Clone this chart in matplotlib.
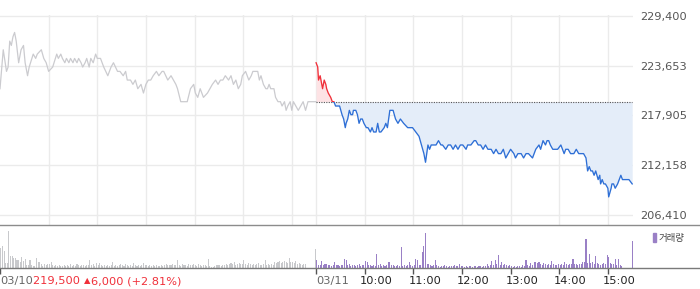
import matplotlib
matplotlib.use("Agg")
import matplotlib.pyplot as plt
import matplotlib.transforms as mtransforms
from matplotlib.patches import Rectangle
from matplotlib.lines import Line2D

# price ticks on the right
price_ticks = [206410, 212158, 217905, 223653, 229400]
price_tick_labels = ["206,410", "212,158", "217,905", "223,653", "229,400"]

# previous day (03/10) close, used as reference line for 03/11
prev_close = 219500
summary_close = "219,500 "
summary_change = "6,000 (+2.81%)"

# 03/10 intraday prices
day1_time = ["09:00", "09:04", "09:08", "09:10", "09:12", "09:14", "09:16", "09:18", "09:20", "09:23",
             "09:26", "09:29", "09:31", "09:34", "09:36", "09:41", "09:44", "09:46", "09:51", "09:54",
             "09:57", "10:00", "10:05", "10:10", "10:12", "10:15", "10:17", "10:20", "10:22", "10:25",
             "10:27", "10:30", "10:32", "10:35", "10:37", "10:40", "10:42", "10:45", "10:47", "10:50",
             "10:52", "10:55", "10:58", "11:00", "11:04", "11:08", "11:13", "11:17", "11:20", "11:25",
             "11:28", "11:32", "11:35", "11:37", "11:41", "11:44", "11:47", "11:50", "11:54", "11:57",
             "12:00", "12:03", "12:06", "12:09", "12:13", "12:16", "12:20", "12:22", "12:27", "12:31",
             "12:34", "12:37", "12:39", "12:43", "12:51", "12:55", "12:59", "13:01", "13:04", "13:07",
             "13:09", "13:11", "13:16", "13:19", "13:22", "13:26", "13:29", "13:32", "13:35", "13:38",
             "13:42", "13:45", "13:48", "13:51", "13:54", "13:57", "13:59", "14:03", "14:05", "14:07",
             "14:10", "14:12", "14:18", "14:20", "14:22", "14:25", "14:28", "14:30", "14:32", "14:34",
             "14:38", "14:40", "14:43", "14:46", "14:48", "14:51", "14:53", "14:55", "14:58", "15:00",
             "15:02", "15:05", "15:08", "15:11", "15:14", "15:17", "15:20", "15:30"]
day1_price = [221000, 225500, 223000, 223500, 226500, 226000, 227000, 227500, 226500, 224000,
              225500, 226000, 224000, 222500, 223500, 225000, 224500, 225000, 225500, 224500,
              224000, 223000, 223500, 225000, 224500, 225000, 224500, 224000, 224500, 224000,
              224500, 224000, 224500, 224000, 224500, 224000, 223500, 224000, 224500, 223500,
              224500, 224000, 225000, 224500, 224500, 223500, 222500, 223500, 224000, 223000,
              223000, 222500, 223000, 222000, 222000, 221500, 222000, 221000, 221500, 220500,
              221500, 222000, 222000, 222500, 223000, 222500, 223000, 223000, 222000, 222500,
              222000, 221500, 221000, 219500, 219500, 221000, 221500, 220500, 220000, 221000,
              220500, 220000, 220500, 221000, 221500, 222000, 221500, 222000, 222000, 222500,
              222000, 222500, 221500, 222000, 221000, 221500, 222500, 223000, 222500, 222000,
              222500, 223000, 223000, 222000, 222500, 221500, 221000, 221000, 221500, 221000,
              221000, 220000, 219500, 219500, 219000, 219500, 218500, 219000, 219500, 218500,
              219500, 219000, 218500, 219000, 219500, 218500, 219500, 219500]

# 03/11 intraday prices
day2_time = ["09:00", "09:02", "09:03", "09:05", "09:06", "09:08", "09:10", "09:12", "09:13", "09:15",
             "09:18", "09:20", "09:22", "09:24", "09:29", "09:32", "09:34", "09:36", "09:37", "09:39",
             "09:41", "09:43", "09:45", "09:46", "09:49", "09:51", "09:53", "09:55", "09:57", "09:59",
             "10:02", "10:04", "10:07", "10:09", "10:11", "10:14", "10:16", "10:18", "10:20", "10:24",
             "10:26", "10:28", "10:31", "10:33", "10:35", "10:38", "10:41", "10:44", "10:48", "10:53",
             "10:59", "11:03", "11:07", "11:10", "11:13", "11:15", "11:18", "11:20", "11:22", "11:25",
             "11:28", "11:31", "11:34", "11:36", "11:40", "11:43", "11:46", "11:49", "11:52", "11:55",
             "11:58", "12:01", "12:05", "12:07", "12:11", "12:15", "12:17", "12:20", "12:23", "12:26",
             "12:29", "12:32", "12:36", "12:39", "12:42", "12:45", "12:48", "12:51", "12:54", "12:57",
             "13:00", "13:04", "13:06", "13:09", "13:13", "13:16", "13:19", "13:22", "13:27", "13:31",
             "13:35", "13:37", "13:40", "13:43", "13:45", "13:47", "13:49", "13:52", "13:55", "13:58",
             "14:02", "14:04", "14:06", "14:08", "14:11", "14:14", "14:18", "14:21", "14:24", "14:28",
             "14:30", "14:33", "14:35", "14:37", "14:39", "14:41", "14:43", "14:45", "14:48", "14:50",
             "14:51", "14:53", "14:55", "14:57", "15:00", "15:01", "15:04", "15:05", "15:07", "15:09",
             "15:12", "15:14", "15:16", "15:18", "15:20", "15:26", "15:30"]
day2_price = [224000, 223500, 222000, 222500, 222000, 221000, 222000, 221500, 221000, 220500,
              220000, 219500, 219500, 219000, 219000, 218000, 217500, 216500, 217000, 217500,
              218500, 218000, 218000, 218500, 218500, 218000, 217000, 217500, 217500, 217000,
              216500, 216500, 216000, 216500, 216000, 216000, 217000, 216000, 216000, 216500,
              217000, 216500, 218500, 218500, 218500, 217500, 217000, 217500, 217000, 216500,
              216500, 216000, 215500, 214500, 213500, 212500, 214500, 214000, 214500, 214500,
              214500, 215000, 214500, 214500, 214000, 214500, 214500, 214000, 214500, 214000,
              214500, 214500, 214000, 214500, 214500, 215000, 215000, 214500, 214500, 214000,
              214500, 214000, 214000, 213500, 214000, 213500, 213500, 214000, 213000, 213500,
              214000, 213500, 213000, 213500, 213500, 213000, 213500, 213500, 213000, 214000,
              214500, 214000, 215000, 214500, 215000, 215000, 214500, 214000, 214000, 214000,
              214500, 214000, 213500, 214000, 214000, 213500, 213500, 214000, 213500, 213500,
              213500, 213000, 211500, 212000, 211500, 211500, 211000, 211500, 210500, 211000,
              210000, 210500, 210000, 210000, 209500, 208500, 209500, 210000, 210000, 209500,
              210000, 210500, 211000, 210500, 210500, 210500, 210000]

# volume per 2-minute bucket (thousand shares), 15 buckets = 30 minutes per row
day1_volume = [20, 22, 17, 5, 5, 37, 12, 12, 10, 10, 8, 8, 6, 11, 7,
               9, 3, 3, 8, 3, 2, 2, 10, 6, 6, 4, 2, 4, 3, 4,
               4, 6, 3, 2, 3, 2, 3, 2, 2, 3, 2, 3, 2, 4, 2,
               3, 2, 4, 3, 2, 3, 3, 2, 3, 3, 8, 3, 4, 2, 5,
               3, 5, 3, 2, 3, 2, 3, 2, 3, 6, 2, 3, 2, 3, 4,
               3, 2, 4, 3, 2, 3, 2, 5, 3, 2, 3, 2, 3, 5, 3,
               3, 2, 3, 2, 3, 2, 3, 2, 2, 3, 2, 3, 4, 3, 3,
               3, 4, 3, 3, 8, 3, 2, 4, 3, 3, 2, 4, 3, 3, 4,
               3, 2, 4, 3, 2, 3, 3, 2, 9, 2, 1, 1, 2, 3, 3,
               3, 2, 3, 3, 4, 3, 4, 5, 4, 6, 3, 4, 5, 4, 4,
               8, 4, 3, 5, 4, 3, 4, 3, 4, 5, 3, 3, 4, 8, 3,
               4, 3, 4, 3, 6, 5, 6, 7, 5, 6, 7, 6, 5, 10, 6,
               6, 5, 7, 4, 5, 4, 3, 4, 4, 0, 0, 0, 0, 0, 0]
day1_close_volume = 19
day2_volume = [8, 3, 3, 7, 3, 4, 4, 3, 3, 2, 3, 6, 3, 3, 2,
               3, 3, 9, 8, 3, 4, 2, 3, 3, 2, 3, 4, 2, 3, 3,
               7, 6, 3, 3, 2, 3, 2, 14, 3, 4, 2, 3, 2, 3, 6,
               6, 3, 3, 2, 2, 3, 2, 21, 2, 3, 2, 3, 6, 3, 2,
               3, 9, 8, 3, 3, 16, 22, 35, 4, 4, 3, 2, 3, 8, 3,
               2, 1, 2, 2, 3, 2, 1, 2, 2, 2, 3, 2, 2, 4, 2,
               2, 1, 2, 1, 2, 2, 1, 2, 2, 1, 2, 2, 1, 2, 2,
               4, 2, 3, 7, 3, 8, 4, 13, 3, 6, 3, 4, 3, 2, 3,
               2, 1, 2, 1, 2, 2, 1, 3, 2, 8, 3, 2, 5, 3, 6,
               6, 5, 6, 4, 3, 5, 4, 3, 4, 3, 7, 4, 3, 3, 4,
               3, 4, 3, 6, 4, 3, 4, 4, 9, 4, 4, 3, 4, 4, 6,
               6, 29, 5, 14, 5, 6, 4, 12, 5, 4, 3, 4, 5, 4, 13,
               11, 5, 4, 4, 9, 3, 9, 3, 2, 0, 0, 0, 0, 0, 0]
day2_close_volume = 27

day_labels = ["03/10", "03/11"]
hour_labels = ["10:00", "11:00", "12:00", "13:00", "14:00", "15:00"]


def to_min(t):
    h, m = t.split(":")
    return (int(h) - 9) * 60 + int(m)


SESSION = 390  # minutes 09:00-15:30
x1 = [to_min(t) for t in day1_time]
x2 = [SESSION + to_min(t) for t in day2_time]
vx1 = [2 * i + 1 for i in range(len(day1_volume))]
vx2 = [SESSION + 2 * i + 1 for i in range(len(day2_volume))]
hours = [60 * (i + 1) for i in range(len(hour_labels))]

RED = "#f0303a"
BLUE = "#2e6fd6"
GRAY_LINE = "#cbcbcf"
PURPLE = "#9a80c6"
GRID = "#ebebeb"

W, H = 700, 289
fig = plt.figure(figsize=(W / 100, H / 100), dpi=100)
ax = fig.add_axes([0, 64 / H, 633 / W, 210 / H])
axv = fig.add_axes([0, 21 / H, 633 / W, 43 / H])

xmax = 2 * SESSION + 1
ax.set_xlim(0, xmax)
ax.set_ylim(205254, 229515)

# grid
ax.set_xticks(hours + [SESSION] + [SESSION + h for h in hours])
ax.set_yticks(price_ticks)
ax.grid(True, color=GRID, lw=1)
ax.set_axisbelow(True)
for s in ax.spines.values():
    s.set_visible(False)
ax.tick_params(axis="x", length=0, labelbottom=False)
ax.yaxis.set_ticks_position("right")
ax.set_yticklabels(price_tick_labels)
ax.tick_params(axis="y", length=0, pad=5, labelsize=8.2, labelcolor="#555555")

# day 1 line
ax.plot(x1, day1_price, color=GRAY_LINE, lw=0.9)

# day 2 fill and line, red above previous close, blue below
above = Rectangle((0, prev_close), xmax, 1e6, transform=ax.transData)
below = Rectangle((0, prev_close - 1e6), xmax, 1e6, transform=ax.transData)
f_red = ax.fill_between(x2, day2_price, prev_close, color="#fde3e5", lw=0)
f_red.set_clip_path(above)
f_blue = ax.fill_between(x2, day2_price, prev_close, color="#e4edf9", lw=0)
f_blue.set_clip_path(below)
ax.hlines(prev_close, x2[0], x2[-1], colors="#555555", linestyles=(0, (1, 1.2)), lw=0.8)
l_red, = ax.plot(x2, day2_price, color=RED, lw=0.95)
l_red.set_clip_path(above)
l_blue, = ax.plot(x2, day2_price, color=BLUE, lw=0.95)
l_blue.set_clip_path(below)

# volume
axv.set_xlim(0, xmax)
axv.set_ylim(0, 43)
axv.bar(vx1, day1_volume, width=1.3, color="#c8c9cc", lw=0)
axv.bar([SESSION - 0.6], [day1_close_volume], width=1.3, color="#c8c9cc", lw=0)
axv.bar(vx2, day2_volume, width=1.3, color=PURPLE, lw=0)
axv.bar([xmax - 1], [day2_close_volume], width=1.3, color=PURPLE, lw=0)
for s in axv.spines.values():
    s.set_visible(False)
axv.set_yticks([])
axv.set_xticks([0, SESSION] + [SESSION + h for h in hours])
axv.tick_params(axis="x", length=4, width=1, color="#555555", labelbottom=False)

# separators
for ypx, c in [(225, "#8c8c8c"), (268, "#7a7a7a")]:
    fig.add_artist(Line2D([0, 1], [(H - ypx) / H] * 2, color=c, lw=1, transform=fig.transFigure))

# bottom labels
trans = mtransforms.blended_transform_factory(axv.transData, fig.transFigure)
ylab = (H - 281) / H
t0 = axv.text(0, ylab, day_labels[0], transform=trans, ha="left", va="center",
              fontsize=8.2, color="#666666")
t1 = axv.annotate(summary_close, xy=(1, 0.5), xycoords=t0, ha="left", va="center",
                  fontsize=8.2, color=RED)
t2 = axv.annotate("▲", xy=(1, 0.5), xycoords=t1, ha="left", va="center",
                  fontsize=6, color=RED)
axv.annotate(summary_change, xy=(1, 0.5), xycoords=t2, xytext=(1, 0), textcoords="offset points",
             ha="left", va="center", fontsize=8.2, color=RED)
axv.text(SESSION, ylab, day_labels[1], transform=trans, ha="left", va="center",
         fontsize=8.2, color="#666666")
shift = mtransforms.offset_copy(trans, fig=fig, x=-5, units="dots")
for h, lab in zip(hours, hour_labels):
    axv.text(SESSION + h, ylab, lab, transform=shift, ha="left", va="center",
             fontsize=8.2, color="#222222")

# legend
fig.add_artist(Rectangle((653 / W, (H - 242) / H), 3 / W, 9 / H, color=PURPLE,
                         transform=fig.transFigure))
fig.text(659 / W, (H - 238) / H, "거래량", ha="left", va="center", fontsize=6.8,
         color="#444444", family=["Noto Sans CJK KR", "DejaVu Sans"])

fig.savefig("out.png", dpi=100)
